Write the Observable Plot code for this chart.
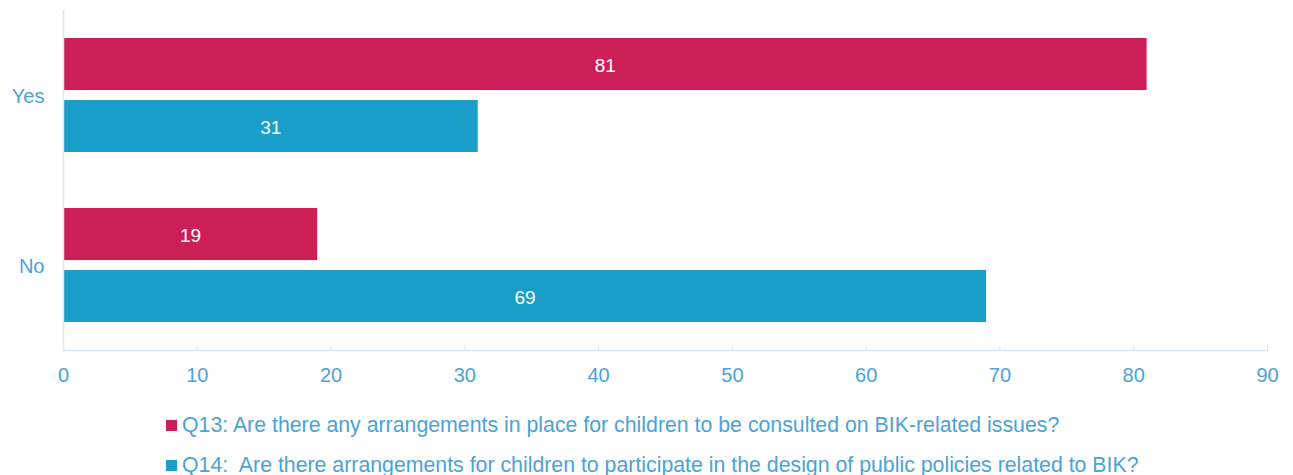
<!DOCTYPE html>
<html>
<head>
<meta charset="utf-8">
<script src="https://cdn.jsdelivr.net/npm/d3@7"></script>
<script src="https://cdn.jsdelivr.net/npm/@observablehq/plot@0.6"></script>
<style>
  body { margin: 0; background: #fff; font-family: "Liberation Sans", Arial, sans-serif; }
  #chart svg { display: block; }
  .legend { padding-left: 166px; padding-top: 5px; color: #4BA3D6; font-size: 21.3px; }
  .legend div { height: 40px; line-height: 40px; white-space: pre; display: flex; align-items: center; }
  .legend span.sw { display: inline-block; width: 11px; height: 11px; margin-right: 5px; flex: none; }
</style>
</head>
<body>
<div id="chart"></div>
<div class="legend" id="legend"></div>
<script>
const answers = ["Yes", "No"];
const questions = ["Q13", "Q14"];
const q13Values = [81, 19];
const q14Values = [31, 69];
const questionLabels = [
  "Q13: Are there any arrangements in place for children to be consulted on BIK-related issues?",
  "Q14:  Are there arrangements for children to participate in the design of public policies related to BIK?"
];
const colors = ["#CC1F57", "#1A9ECA"];
const xTicks = [0, 10, 20, 30, 40, 50, 60, 70, 80, 90];

const q13 = answers.map((a, i) => ({answer: a, value: q13Values[i]}));
const q14 = answers.map((a, i) => ({answer: a, value: q14Values[i]}));

const textColor = "#4BA3D6";
const lineColor = "#D6E8F4";

const plot = Plot.plot({
  width: 1293,
  height: 400,
  marginLeft: 63,
  marginRight: 26,
  marginTop: 10,
  marginBottom: 50,
  style: {fontFamily: "Liberation Sans, Arial, sans-serif", fontSize: "20px", color: textColor, background: "#fff"},
  x: {domain: [0, 90]},
  y: {domain: answers, paddingInner: 0.33, paddingOuter: 0.165},
  marks: [
    Plot.barX(q13, {x: "value", y: "answer", fill: colors[0], insetBottom: 62}),
    Plot.barX(q14, {x: "value", y: "answer", fill: colors[1], insetTop: 62}),
    Plot.text(q13, {x: d => d.value / 2, y: "answer", text: d => String(d.value), fill: "#fff", dy: -30, fontSize: 19}),
    Plot.text(q14, {x: d => d.value / 2, y: "answer", text: d => String(d.value), fill: "#fff", dy: 32, fontSize: 19}),
    Plot.frame({anchor: "left", stroke: lineColor, strokeWidth: 1.5}),
    Plot.frame({anchor: "bottom", stroke: lineColor, strokeWidth: 1.5}),
    Plot.axisX({ticks: xTicks, tickSize: -5, tickPadding: 22, stroke: lineColor, fill: textColor, fontSize: 20, label: null}),
    Plot.axisY({tickSize: 0, tickPadding: 19, fill: textColor, fontSize: 20, label: null, dy: 1})
  ]
});
document.getElementById("chart").appendChild(plot);

const legend = document.getElementById("legend");
questions.forEach((q, i) => {
  const row = document.createElement("div");
  const sw = document.createElement("span");
  sw.className = "sw";
  sw.style.background = colors[i];
  row.appendChild(sw);
  row.appendChild(document.createTextNode(questionLabels[i]));
  legend.appendChild(row);
});
</script>
</body>
</html>
